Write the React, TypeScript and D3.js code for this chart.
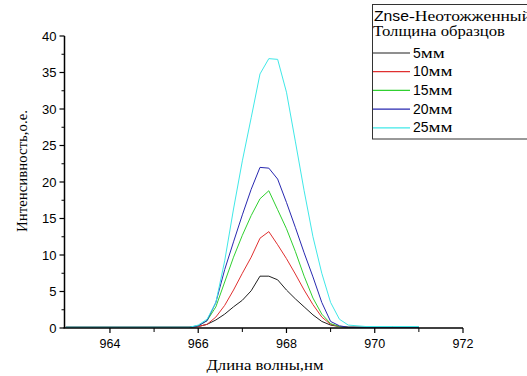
import React from "react";
import * as d3 from "d3";

// Emission spectra of unannealed ZnSe samples of different thickness
const wavelength = [
  963.0, 963.6, 964.2, 964.8, 965.4, 965.8,
  966.0, 966.2, 966.4, 966.6, 966.8, 967.0, 967.2, 967.4, 967.6,
  967.8, 968.0, 968.2, 968.4, 968.6, 968.8, 969.0, 969.2, 969.4,
  969.8, 970.4, 971.0,
];

const mm5 = [
  0.1, 0.1, 0.1, 0.1, 0.1, 0.1,
  0.2, 0.5, 1.1, 1.9, 2.9, 3.8, 5.1, 7.1, 7.1,
  6.6, 5.2, 4.0, 2.9, 1.8, 0.9, 0.4, 0.2, 0.1,
  0.1, 0.1, 0.1,
];
const mm10 = [
  0.1, 0.1, 0.1, 0.1, 0.1, 0.1,
  0.2, 0.5, 1.5, 3.1, 5.2, 7.5, 9.7, 12.3, 13.2,
  11.4, 9.5, 7.4, 5.2, 3.2, 1.5, 0.5, 0.2, 0.1,
  0.1, 0.1, 0.1,
];
const mm15 = [
  0.1, 0.1, 0.1, 0.1, 0.1, 0.1,
  0.3, 1.0, 2.9, 6.3, 9.7, 12.7, 15.4, 17.7, 18.8,
  16.2, 13.6, 10.5, 7.1, 4.1, 1.9, 0.6, 0.2, 0.1,
  0.1, 0.1, 0.1,
];
const mm20 = [
  0.1, 0.1, 0.1, 0.1, 0.1, 0.1,
  0.3, 1.0, 3.5, 8.0, 11.8, 15.5, 19.0, 22.0, 21.9,
  20.4, 17.2, 13.8, 10.3, 7.0, 3.5, 0.9, 0.3, 0.1,
  0.1, 0.1, 0.1,
];
const mm25 = [
  0.1, 0.1, 0.1, 0.1, 0.1, 0.1,
  0.4, 1.2, 3.5, 9.2, 16.3, 22.9, 28.8, 34.8, 36.9,
  36.8, 32.3, 25.6, 18.8, 12.5, 7.5, 3.5, 1.2, 0.4,
  0.2, 0.2, 0.2,
];

const seriesLabels = ["5", "10", "15", "20", "25"];
const seriesValues = [mm5, mm10, mm15, mm20, mm25];
const seriesColors = ["#202020", "#e03030", "#30d030", "#2828b0", "#40e8e8"];

const yTicks = [0, 5, 10, 15, 20, 25, 30, 35, 40];
const xTicks = [964, 966, 968, 970, 972];

const W = 527;
const H = 376;
const left = 64.5;
const right = 463;
const top = 36;
const bottom = 328;

const serif = "'Liberation Serif', 'Times New Roman', serif";
const sans = "'Liberation Sans', Arial, sans-serif";

export default function App() {
  const x = d3.scaleLinear().domain([962.97, 972]).range([left, right]);
  const y = d3.scaleLinear().domain([0, 40]).range([bottom, top]);

  const line = d3
    .line<number>()
    .x((_, i) => x(wavelength[i]))
    .y((d) => y(d));

  const yMinor = d3.range(2.5, 40, 5);
  const xMinor = d3.range(965, 972, 2);

  return (
    <svg
      width={W}
      height={H}
      style={{ position: "absolute", left: 0, top: 0, background: "#fff" }}
    >
      <rect width={W} height={H} fill="#fff" />

      {/* spectra */}
      {seriesValues.map((vals, i) => (
        <path
          key={i}
          d={line(vals) || ""}
          fill="none"
          stroke={seriesColors[i]}
          strokeWidth={1}
          strokeLinejoin="round"
        />
      ))}

      {/* y axis */}
      <line x1={left} x2={left} y1={bottom} y2={top} stroke="#000" strokeWidth={1.5} />
      {yTicks.map((t) => (
        <g key={t}>
          <line x1={left - 5} x2={left} y1={y(t)} y2={y(t)} stroke="#000" strokeWidth={1.2} />
          <text
            x={left - 8}
            y={y(t) + 4.5}
            textAnchor="end"
            fontFamily={sans}
            fontSize={13}
          >
            {t}
          </text>
        </g>
      ))}
      {yMinor.map((t) => (
        <line key={t} x1={left - 3} x2={left} y1={y(t)} y2={y(t)} stroke="#000" strokeWidth={1} />
      ))}

      {/* x axis */}
      <line x1={left - 1} x2={right} y1={bottom} y2={bottom} stroke="#000" strokeWidth={1.5} />
      {xTicks.map((t) => (
        <g key={t}>
          <line x1={x(t)} x2={x(t)} y1={bottom} y2={bottom + 5} stroke="#000" strokeWidth={1.2} />
          <text
            x={x(t)}
            y={bottom + 20}
            textAnchor="middle"
            fontFamily={sans}
            fontSize={12.5}
          >
            {t}
          </text>
        </g>
      ))}
      {xMinor.map((t) => (
        <line key={t} x1={x(t)} x2={x(t)} y1={bottom} y2={bottom + 4} stroke="#000" strokeWidth={1} />
      ))}

      {/* axis titles */}
      <text
        x={265}
        y={370}
        textAnchor="middle"
        fontFamily={serif}
        fontSize={15}
        textLength={117}
        lengthAdjust="spacingAndGlyphs"
      >
        Длина волны,нм
      </text>
      <text
        transform={`translate(27,171) rotate(-90)`}
        textAnchor="middle"
        fontFamily={serif}
        fontSize={14}
        textLength={122}
        lengthAdjust="spacingAndGlyphs"
      >
        Интенсивность,о.е.
      </text>

      {/* legend */}
      <rect x={372.5} y={4.5} width={170} height={134.5} fill="#fff" stroke="#333" strokeWidth={1} />
      <text x={374} y={21} fontFamily={sans} fontSize={14} textLength={35} lengthAdjust="spacingAndGlyphs">
        Znse
      </text>
      <text x={409} y={21} fontFamily={serif} fontSize={14} textLength={122} lengthAdjust="spacingAndGlyphs">
        -Неотожженный
      </text>
      <text x={373} y={36} fontFamily={serif} fontSize={14} textLength={132} lengthAdjust="spacingAndGlyphs">
        Толщина образцов
      </text>
      {seriesLabels.map((lab, i) => {
        const ly = 53 + i * 18.7;
        const numW = lab.length * 7.8;
        return (
          <g key={lab}>
            <line x1={373} x2={410} y1={ly} y2={ly} stroke={seriesColors[i]} strokeWidth={1.2} />
            <text x={413} y={ly + 4.5} fontFamily={sans} fontSize={14}>
              {lab}
            </text>
            <text
              x={413 + numW}
              y={ly + 4.5}
              fontFamily={serif}
              fontSize={14}
              textLength={24}
              lengthAdjust="spacingAndGlyphs"
            >
              мм
            </text>
          </g>
        );
      })}
    </svg>
  );
}
